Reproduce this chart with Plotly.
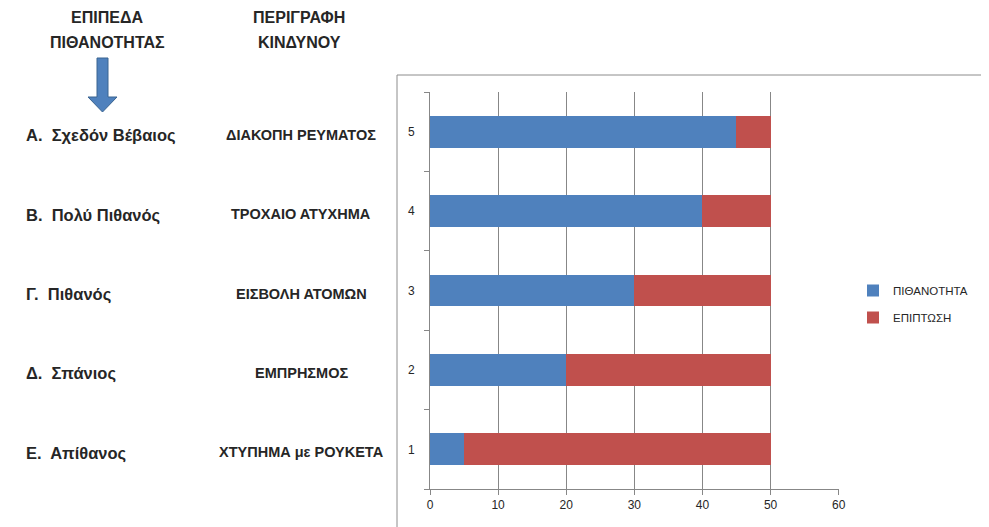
import plotly.graph_objects as go

categories = ["1", "2", "3", "4", "5"]
probability = [5, 20, 30, 40, 45]
impact = [45, 30, 20, 10, 5]
levels = ["Α.  Σχεδόν Βέβαιος", "Β.  Πολύ Πιθανός", "Γ.  Πιθανός", "Δ.  Σπάνιος", "Ε.  Απίθανος"][::-1]
descriptions = ["ΔΙΑΚΟΠΗ ΡΕΥΜΑΤΟΣ", "ΤΡΟΧΑΙΟ ΑΤΥΧΗΜΑ", "ΕΙΣΒΟΛΗ ΑΤΟΜΩΝ", "ΕΜΠΡΗΣΜΟΣ", "ΧΤΥΠΗΜΑ με ΡΟΥΚΕΤΑ"][::-1]
series_names = ["ΠΙΘΑΝΟΤΗΤΑ", "ΕΠΙΠΤΩΣΗ"]
x_ticks = [0, 10, 20, 30, 40, 50, 60]

OFF = 8  # default page body margin
W, H = 989 - OFF, 527 - OFF
# plot area in page pixels
L, R, T, B = 430, 839, 92, 489

def px(x):
    return (x - L) / (R - L)

def py(y):
    return (B - y) / (B - T)

BLUE = "#4F81BD"
RED = "#C0504D"
GRID = "#878787"
TXT = "#262626"
FONT = "Liberation Sans"

fig = go.Figure()
fig.add_trace(go.Bar(y=categories, x=probability, orientation="h", name=series_names[0],
                     legendgroup="a",
                     marker=dict(color=BLUE, line=dict(width=0)), width=0.4))
fig.add_trace(go.Bar(y=categories, x=impact, orientation="h", name=series_names[1],
                     legendgroup="b",
                     marker=dict(color=RED, line=dict(width=0)), width=0.4))

ann = []
for i, (lv, ds) in enumerate(zip(levels, descriptions)):
    ann.append(dict(x=px(24), y=i, xref="paper", yref="y", text="<b>" + lv + "</b>", showarrow=False,
                    xanchor="left", yanchor="middle", yshift=-4,
                    font=dict(family=FONT, size=16.5, color=TXT)))
    ann.append(dict(x=px(301), y=i, xref="paper", yref="y", text="<b>" + ds + "</b>", showarrow=False,
                    xanchor="center", yanchor="middle", yshift=-3,
                    font=dict(family=FONT, size=14.5, color=TXT)))

for txt, xc, yc in [("ΕΠΙΠΕΔΑ", 107, 17), ("ΠΙΘΑΝΟΤΗΤΑΣ", 107, 42),
                    ("ΠΕΡΙΓΡΑΦΗ", 299, 17), ("ΚΙΝΔΥΝΟΥ", 299, 42)]:
    ann.append(dict(x=px(xc), y=py(yc), xref="paper", yref="paper", text="<b>" + txt + "</b>",
                    showarrow=False, xanchor="center", yanchor="middle",
                    font=dict(family=FONT, size=16, color=TXT)))

# arrow
pts = [(97, 58), (108, 58), (108, 97), (117, 97), (102.5, 112), (88, 97), (97, 97)]
path = "M " + " L ".join(f"{px(a)},{py(b)}" for a, b in pts) + " Z"
shapes = [
    dict(type="path", xref="paper", yref="paper", path=path,
         fillcolor=BLUE, line=dict(color="#3A6491", width=1)),
    dict(type="rect", xref="paper", yref="paper", x0=px(397), y0=py(75), x1=px(1000), y1=py(540),
         line=dict(color="#8C8C8C", width=1), fillcolor="rgba(0,0,0,0)", layer="below"),
]

fig.update_layout(
    width=W, height=H,
    margin=dict(l=L - OFF, r=W - (R - OFF), t=T - OFF, b=H - (B - OFF), pad=0),
    barmode="stack",
    plot_bgcolor="white", paper_bgcolor="white",
    font=dict(family=FONT, size=12, color=TXT),
    annotations=ann,
    shapes=shapes,
    legend=dict(x=px(853), y=py(276), xanchor="left", yanchor="top",
                traceorder="grouped", font=dict(family=FONT, size=11.5, color=TXT),
                tracegroupgap=8, itemwidth=30, bgcolor="rgba(0,0,0,0)"),
    showlegend=True,
)
fig.update_xaxes(range=[0, 60.05], tickvals=x_ticks, ticktext=[str(v) for v in x_ticks],
                 showgrid=True, gridcolor=GRID, gridwidth=1, zeroline=False,
                 showline=True, linecolor=GRID, linewidth=1,
                 ticks="outside", ticklen=5, tickcolor=GRID,
                 tickfont=dict(family=FONT, size=12, color=TXT))
fig.update_yaxes(type="category", categoryorder="array", categoryarray=categories,
                 range=[-0.5, 4.5], autorange=False,
                 tickson="boundaries", ticks="outside", ticklen=5, tickcolor=GRID,
                 showgrid=False, showline=True, linecolor=GRID, linewidth=1,
                 ticklabelstandoff=12,
                 tickfont=dict(family=FONT, size=12, color=TXT))

fig.write_html("out.html")
